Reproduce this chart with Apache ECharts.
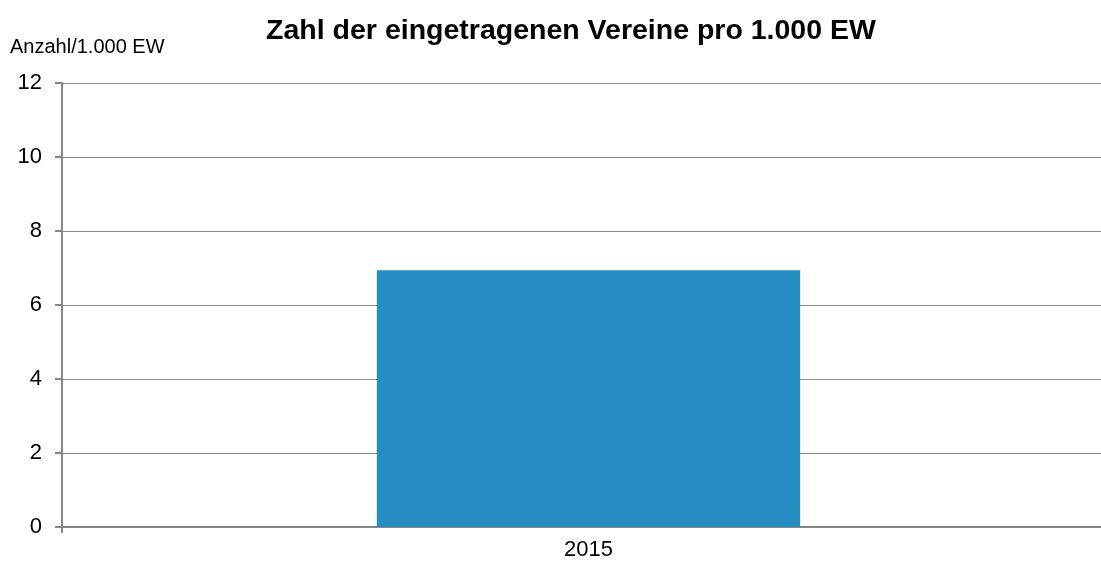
<!DOCTYPE html>
<html>
<head>
<meta charset="utf-8">
<script src="https://cdn.jsdelivr.net/npm/echarts@6/dist/echarts.min.js"></script>
<style>
  html, body { margin: 0; padding: 0; background: #fff; }
  #chart { width: 1101px; height: 562px; }
</style>
</head>
<body>
<div id="chart"></div>
<script>
// Daten
var years = ['2015'];
var vereineProEW = [6.94];
var yTicks = { min: 0, max: 12, interval: 2 };

var chart = echarts.init(document.getElementById('chart'));
var option = {
  animation: false,
  textStyle: { fontFamily: 'Liberation Sans, Arial, sans-serif' },
  title: {
    text: 'Zahl der eingetragenen Vereine pro 1.000 EW',
    left: 566,
    top: 12,
    textAlign: 'center',
    textStyle: {
      fontSize: 28.5,
      fontWeight: 'bold',
      color: '#000',
      fontFamily: 'Liberation Sans, Arial, sans-serif'
    }
  },
  grid: {
    left: 62,
    right: -14,
    top: 83,
    bottom: 35,
    containLabel: false,
    outerBoundsMode: 'none'
  },
  xAxis: {
    type: 'category',
    data: years,
    axisLine: { lineStyle: { color: '#868686', width: 2 } },
    axisTick: { show: true, length: 6, lineStyle: { color: '#868686', width: 2 } },
    axisLabel: { color: '#000', fontSize: 22, margin: 12 }
  },
  yAxis: {
    type: 'value',
    min: yTicks.min,
    max: yTicks.max,
    interval: yTicks.interval,
    name: 'Anzahl/1.000 EW',
    nameLocation: 'end',
    nameGap: 26,
    nameTextStyle: { color: '#000', fontSize: 20, align: 'left', padding: [0, 0, 0, -52] },
    axisLine: { show: true, lineStyle: { color: '#868686', width: 2 } },
    axisTick: { show: true, length: 7, lineStyle: { color: '#868686', width: 2 } },
    axisLabel: { color: '#000', fontSize: 22, margin: 20 },
    splitLine: { lineStyle: { color: '#8c8c8c', width: 1 } }
  },
  series: [{
    type: 'bar',
    data: vereineProEW,
    barWidth: '40.2%',
    itemStyle: { color: '#268ec3' }
  }]
};
chart.setOption(option);
</script>
</body>
</html>
